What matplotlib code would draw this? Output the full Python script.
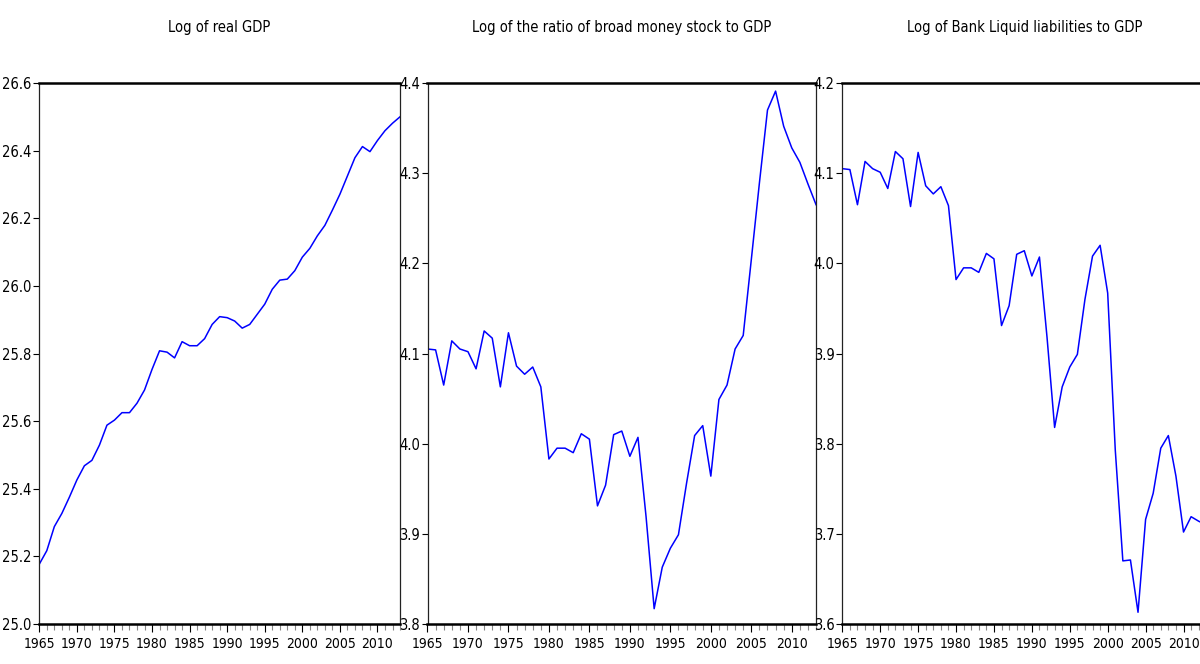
import matplotlib
matplotlib.use('Agg')
import matplotlib.pyplot as plt
from matplotlib.ticker import MultipleLocator

plt.rcParams['font.family'] = ['Liberation Sans Narrow', 'DejaVu Sans']
plt.rcParams['font.stretch'] = 'condensed'

years = list(range(1965, 2014))

# log of real GDP
log_gdp = [25.177, 25.217, 25.288, 25.327, 25.375, 25.426, 25.468, 25.484, 25.529, 25.588,
           25.603, 25.625, 25.625, 25.653, 25.692, 25.753, 25.808, 25.804, 25.787, 25.835,
           25.823, 25.823, 25.844, 25.886, 25.909, 25.906, 25.896, 25.875, 25.886, 25.916,
           25.946, 25.990, 26.017, 26.020, 26.045, 26.085, 26.111, 26.148, 26.179, 26.224,
           26.271, 26.325, 26.379, 26.412, 26.397, 26.430, 26.459, 26.481, 26.500]

# log of broad money / GDP
log_money = [4.105, 4.104, 4.065, 4.114, 4.105, 4.102, 4.083, 4.125, 4.117, 4.063,
             4.123, 4.086, 4.077, 4.085, 4.063, 3.983, 3.995, 3.995, 3.990, 4.011,
             4.005, 3.931, 3.954, 4.010, 4.014, 3.986, 4.007, 3.919, 3.817, 3.863,
             3.884, 3.899, 3.956, 4.009, 4.020, 3.964, 4.049, 4.065, 4.105, 4.120,
             4.204, 4.289, 4.370, 4.391, 4.352, 4.328, 4.312, 4.288, 4.265]

# log of bank liquid liabilities / GDP
log_liq = [4.105, 4.104, 4.065, 4.113, 4.105, 4.101, 4.083, 4.124, 4.116, 4.063,
           4.123, 4.086, 4.077, 4.085, 4.064, 3.982, 3.995, 3.995, 3.990, 4.011,
           4.005, 3.931, 3.953, 4.010, 4.014, 3.986, 4.007, 3.918, 3.818, 3.863,
           3.885, 3.899, 3.960, 4.008, 4.020, 3.967, 3.793, 3.670, 3.671, 3.613,
           3.716, 3.745, 3.795, 3.809, 3.764, 3.702, 3.719, 3.714, 3.710]

titles = ['Log of real GDP',
          'Log of the ratio of broad money stock to GDP',
          'Log of Bank Liquid liabilities to GDP']
series = [log_gdp, log_money, log_liq]
ylims = [(25.0, 26.6), (3.8, 4.4), (3.6, 4.2)]
ysteps = [0.2, 0.1, 0.1]

fig = plt.figure(figsize=(12, 6.64), dpi=100)

bottom = 40 / 664
height = 541 / 664
positions = [(39.3 / 1200, 0.3006), (427.5 / 1200, 0.3238), (842.3 / 1200, 0.3033)]

for i in range(3):
    left, width = positions[i]
    ax = fig.add_axes([left, bottom, width, height])
    ax.plot(years, series[i], color='#0000ff', lw=1.1)
    ax.set_xlim(1965, 2013)
    ax.set_ylim(*ylims[i])
    ax.yaxis.set_major_locator(MultipleLocator(ysteps[i]))
    ax.yaxis.set_major_formatter(plt.FormatStrFormatter('%.1f'))
    ax.set_xticks(list(range(1965, 2013, 5)))
    ax.xaxis.set_minor_locator(MultipleLocator(1))
    ax.tick_params(axis='y', direction='out', length=4, width=0.8, pad=1.5, labelsize=10.5)
    ax.tick_params(axis='x', which='major', direction='out', length=6, width=0.8, pad=3, labelsize=10)
    ax.tick_params(axis='x', which='minor', direction='out', length=4, width=0.8, color='#888888')
    for side in ['top', 'bottom']:
        ax.spines[side].set_linewidth(1.8)
        ax.spines[side].set_color('black')
    for side in ['left', 'right']:
        ax.spines[side].set_linewidth(0.9)
        ax.spines[side].set_color('#222222')
    ax.set_title(titles[i], fontsize=10.5, pad=37)

fig.savefig('out.png', dpi=100)
